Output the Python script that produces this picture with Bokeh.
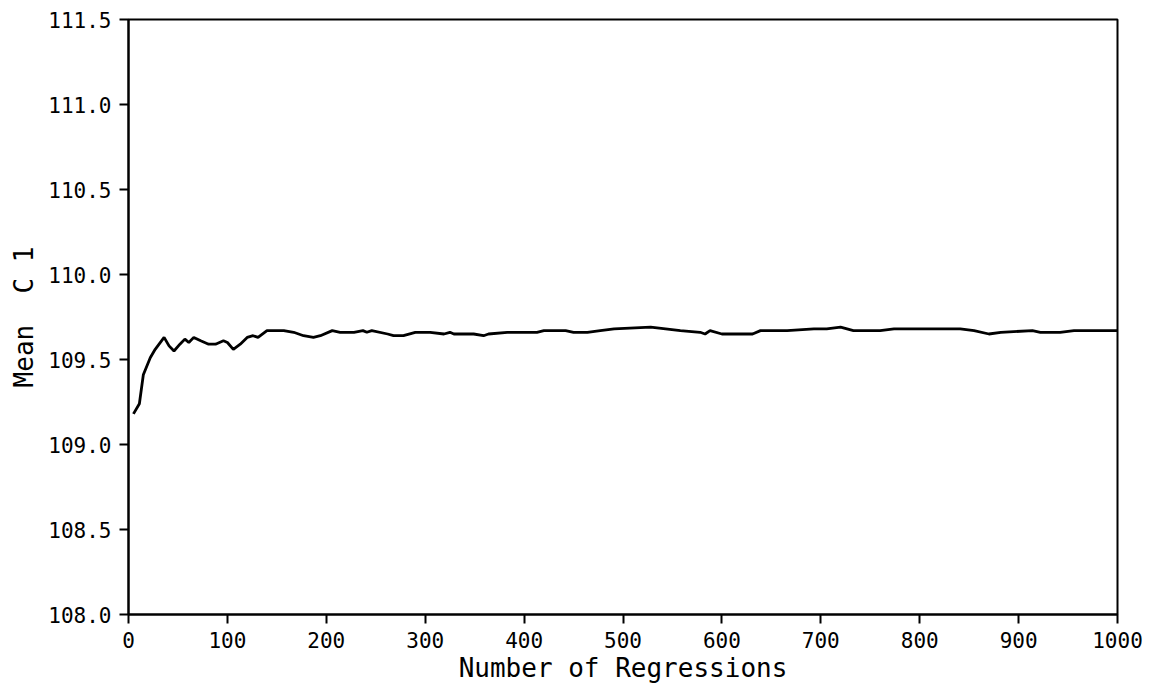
from bokeh.plotting import figure
from bokeh.models import FixedTicker, PrintfTickFormatter, Range1d
from bokeh.embed import file_html
from bokeh.resources import INLINE

regressions = [5, 11, 15, 22, 27, 36, 41, 46, 52, 57, 61, 66, 73, 81, 88, 96, 100, 106,
               113, 120, 126, 131, 140, 157, 167, 177, 187, 194, 206, 214, 228, 237, 241,
               246, 262, 268, 278, 290, 305, 319, 325, 329, 349, 359, 364, 383, 413, 420,
               430, 442, 450, 464, 477, 491, 528, 558, 578, 583, 588, 600, 631, 639, 666,
               693, 706, 720, 733, 760, 774, 807, 841, 855, 870, 882, 914, 922, 942, 956, 1000]
mean_c1 = [109.18, 109.24, 109.41, 109.51, 109.56, 109.63, 109.58, 109.55, 109.59, 109.62,
           109.60, 109.63, 109.61, 109.59, 109.59, 109.61, 109.60, 109.56, 109.59, 109.63,
           109.64, 109.63, 109.67, 109.67, 109.66, 109.64, 109.63, 109.64, 109.67, 109.66,
           109.66, 109.67, 109.66, 109.67, 109.65, 109.64, 109.64, 109.66, 109.66, 109.65,
           109.66, 109.65, 109.65, 109.64, 109.65, 109.66, 109.66, 109.67, 109.67, 109.67,
           109.66, 109.66, 109.67, 109.68, 109.69, 109.67, 109.66, 109.65, 109.67, 109.65,
           109.65, 109.67, 109.67, 109.68, 109.68, 109.69, 109.67, 109.67, 109.68, 109.68,
           109.68, 109.67, 109.65, 109.66, 109.67, 109.66, 109.66, 109.67, 109.67]

x_ticks = [0, 100, 200, 300, 400, 500, 600, 700, 800, 900, 1000]
y_ticks = [108.0, 108.5, 109.0, 109.5, 110.0, 110.5, 111.0, 111.5]

FONT = "DejaVu Sans Mono"

p = figure(width=1152, height=688, output_backend="svg", toolbar_location=None,
           x_range=Range1d(0, 1000), y_range=Range1d(108.0, 111.5),
           min_border_left=128, min_border_right=35, min_border_top=19, min_border_bottom=74)
p.xgrid.visible = False
p.ygrid.visible = False
p.outline_line_color = "black"
p.outline_line_width = 2
p.outline_line_alpha = 1
p.background_fill_color = "white"
p.border_fill_color = "white"

p.line(regressions, mean_c1, line_color="black", line_width=2.8)

p.xaxis.ticker = FixedTicker(ticks=x_ticks)
p.yaxis.ticker = FixedTicker(ticks=y_ticks)
p.yaxis.formatter = PrintfTickFormatter(format="%.1f")
for ax in (p.xaxis[0], p.yaxis[0]):
    ax.axis_line_color = "black"
    ax.axis_line_width = 2
    ax.major_tick_line_color = "black"
    ax.major_tick_line_width = 2
    ax.major_tick_out = 9
    ax.major_tick_in = 0
    ax.minor_tick_line_color = None
    ax.major_label_text_font = FONT
    ax.major_label_text_font_size = "21px"
    ax.major_label_text_color = "black"
    ax.axis_label_text_font = FONT
    ax.axis_label_text_font_size = "26px"
    ax.axis_label_text_font_style = "normal"
    ax.axis_label_text_color = "black"

p.xaxis.major_label_standoff = 8
p.yaxis.major_label_standoff = 8
p.xaxis.axis_label = "Number of Regressions"
p.yaxis.axis_label = "Mean\u00a0\u00a0C 1"
p.xaxis.axis_label_standoff = 2
p.yaxis.axis_label_standoff = 6

open("out.html", "w").write(file_html(p, INLINE))
